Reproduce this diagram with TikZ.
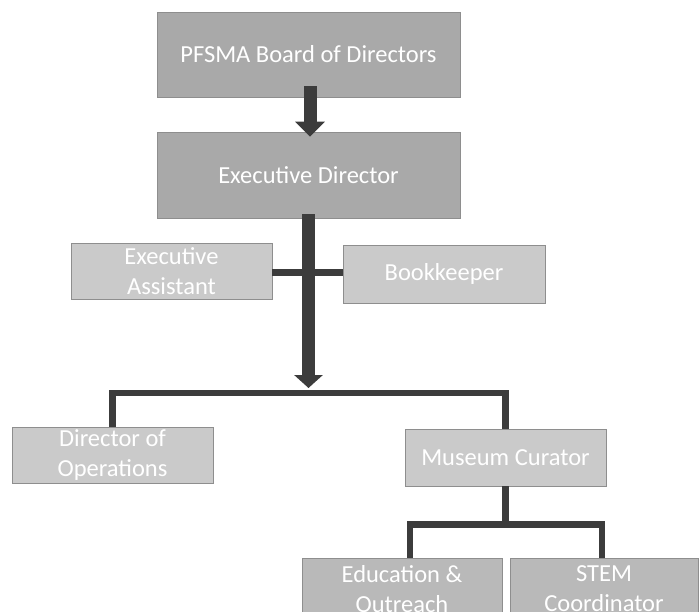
\documentclass[tikz,border=0pt]{standalone}
\usepackage{fontspec}
\setmainfont{Carlito}
\usetikzlibrary{arrows.meta}
\definecolor{dkbox}{HTML}{A9A9A9}
\definecolor{ltbox}{HTML}{CACACA}
\definecolor{mdbox}{HTML}{B9B9B9}
\definecolor{conncol}{HTML}{3C3C3C}
\definecolor{edgecol}{HTML}{8E8E8E}
\begin{document}
\begin{tikzpicture}[x=1pt,y=-1pt,
  box/.style={draw=edgecol, line width=0.8pt, text=white, align=center,
    inner sep=0pt, font=\fontsize{24.5}{30}\selectfont, anchor=center},
  conn/.style={draw=conncol, line width=6.5pt, line join=miter},
  bigarrow/.style={draw=conncol, line width=13pt}]
\clip (0,0) rectangle (700,611);
\node[box, fill=dkbox, minimum width=303pt, minimum height=85pt] (board) at (308.5,54.5) {PFSMA Board of Directors};
\node[box, fill=dkbox, minimum width=303pt, minimum height=86pt] (exec) at (308.5,175) {Executive Director};
\node[box, fill=ltbox, minimum width=201pt, minimum height=56pt] (asst) at (171.5,271) {Executive\\Assistant};
\node[box, fill=ltbox, minimum width=202pt, minimum height=58pt] (book) at (444,274) {Bookkeeper};
\node[box, fill=ltbox, minimum width=201pt, minimum height=56pt] (ops) at (112.5,455) {Director of\\Operations};
\node[box, fill=ltbox, minimum width=201pt, minimum height=57pt] (cur) at (505.5,457.5) {Museum Curator};
\node[box, fill=mdbox, minimum width=200pt, minimum height=62pt] (edu) at (402,589) {Education \&\\Outreach};
\node[box, fill=mdbox, minimum width=188pt, minimum height=62pt] (stem) at (604,589) {STEM\\Coordinator};
\coordinate (split) at (308.5,393);
\coordinate (split2) at (505.5,524.5);
% board -> exec
\draw[bigarrow, -{Triangle[length=15pt,width=29pt]}] ([xshift=1.5pt,yshift=11pt]board.south) -- ([xshift=1.5pt,yshift=-5pt]exec.north);
% exec -> split
\draw[bigarrow, -{Triangle[length=13pt,width=28pt]}] ([yshift=4pt]exec.south) -- ([yshift=5pt]split);
% assistant -- bookkeeper
\draw[conn] ([yshift=-1.5pt]asst.east) -- ([yshift=-1.5pt]asst.east -| book.west);
% first bracket
\draw[conn] (ops.north) |- (split) -| (cur.north);
% second bracket
\draw[conn] (cur.south) -- (split2);
\draw[conn] ([xshift=8pt]edu.north) |- (split2) -| ([xshift=-2pt]stem.north);
\end{tikzpicture}
\end{document}
